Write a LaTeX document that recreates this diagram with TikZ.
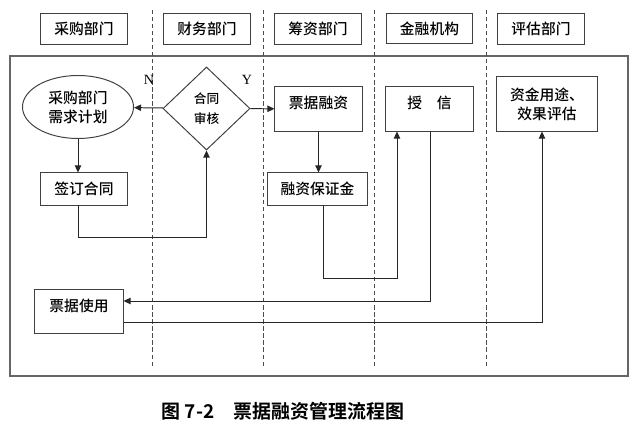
\documentclass[tikz,border=0pt]{standalone}
\usepackage{fontspec}
\setmainfont{Liberation Serif}
\newfontfamily\cjk{Noto Sans CJK SC Medium}[BoldFont={Noto Sans CJK SC Bold}]
\usetikzlibrary{shapes.geometric,arrows.meta}

\tikzset{
  box/.style={draw=black!75, align=center, inner sep=1pt,
    font=\cjk\fontsize{10.5}{13.5}\selectfont},
  hdr/.style={box, minimum width=2.15cm, minimum height=0.77cm},
  upper/.style={text height=9.2pt, text depth=9.7pt},
  oval/.style={box, ellipse, minimum width=2.775cm, minimum height=1.575cm, inner sep=0pt},
  decision/.style={box, diamond, minimum width=2.175cm, minimum height=2.075cm,
    inner sep=0pt, font=\cjk\fontsize{9}{14}\selectfont},
  lane/.style={draw=black!70, line width=0.6pt, dash pattern=on 3pt off 2pt},
  flow/.style={->, draw=black!85}
}

\begin{document}
\begin{tikzpicture}[x=0.025cm, y=-0.025cm, line width=0.7pt,
  >={Triangle[length=5pt,width=4.5pt]}]
\useasboundingbox (0,0) rectangle (640,425);

% lane headers
\node[hdr] (hpurch) at (84,29) {采购部门};
\node[hdr] (hfin) at (207,29) {财务部门};
\node[hdr] (hfund) at (318,29) {筹资部门};
\node[hdr] (hbank) at (429.5,28.5) {金融机构};
\node[hdr] (heval) at (541,29) {评估部门};

% frame and lane separators
\draw[black!60, line width=1pt] (10,56) rectangle (628,376);
\foreach \x in {152,263,374,486}
  \draw[lane] (\x,10) -- (\x,367);

% steps
\node[oval] (plan) at (78,107) {采购部门\\需求计划};
\node[decision] (check) at (206.5,108.5) {合同\\审核};
\node[box, minimum width=2.15cm, minimum height=0.8cm] (sign) at (84,189) {签订合同};
\node[box, upper, minimum width=2.175cm, minimum height=1.1cm] (bill) at (318.5,109) {票据融资};
\node[box, minimum width=2.475cm, minimum height=0.8cm] (margin) at (317.5,189) {融资保证金};
\node[box, upper, minimum width=2.175cm, minimum height=1.1cm] (credit) at (429.5,109) {授\quad 信};
\node[box, minimum width=2.5cm, minimum height=1.35cm] (eval) at (547,104) {资金用途、\\效果评估};
\node[box, upper, minimum width=2.2cm, minimum height=1.075cm] (use) at (79,311.5) {票据使用};

\node (lblN) at (149,80) {N};
\node (lblY) at (247,80) {Y};

% bends
\coordinate (m1) at (323,278);
\coordinate (k1) at (397,278);
\coordinate (k2) at (430,301);
\coordinate (e1) at (542,322);

\draw[flow] (check) -- (plan);
\draw[flow] (check) -- (bill);
\draw[flow] (plan.south) -- (plan.south |- sign.north);
\draw[flow] (sign.south -| plan.south) -- ++(0,32) -| (check.south);
\draw[flow] (bill.south) -- (bill.south |- margin.north);
\draw[flow] (margin.south -| m1) -- (m1) -- (k1) -- (credit.south -| k1);
\draw[flow] (credit.south -| k2) -- (k2) -- (use.east |- k2);
\draw[flow] (use.east |- e1) -- (e1) -- (eval.south -| e1);

% caption
\node[font=\cjk\bfseries\fontsize{13.5}{16}\selectfont] (title) at (283,411) {图 7-2\quad 票据融资管理流程图};
\end{tikzpicture}
\end{document}
